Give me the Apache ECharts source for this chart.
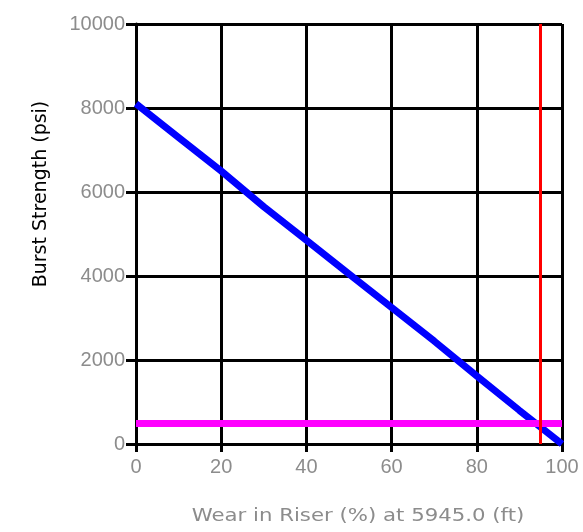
<!DOCTYPE html>
<html>
<head>
<meta charset="utf-8">
<style>
  html, body { margin: 0; padding: 0; background: #fff; }
  #chart { width: 583px; height: 532px; }
</style>
<script src="https://cdn.jsdelivr.net/npm/echarts@6/dist/echarts.min.js"></script>
</head>
<body>
<div id="chart"></div>
<script>
// Riser wear (%) versus burst strength (psi)
const wear = [0, 10, 20, 30, 40, 50, 60, 70, 80, 90, 100];
const burst = [8100, 7300, 6500, 5650, 4850, 4050, 3250, 2450, 1620, 800, 0];
// Reference limits
const wearLimit = 95;
const pressureLimit = 500;
// Titles
const xTitle = 'Wear in Riser (%) at 5945.0 (ft)';
const yTitle = 'Burst Strength (psi)';

const chart = echarts.init(document.getElementById('chart'), null, { renderer: 'canvas' });

const labelStyle = {
  color: '#8c8c8c',
  fontFamily: 'Liberation Sans, Arial, sans-serif',
  fontSize: 20,
  formatter: v => String(v)
};

chart.setOption({
  animation: false,
  grid: { left: 136, right: 21, top: 24, bottom: 88 },
  xAxis: {
    type: 'value',
    min: 0, max: 100, interval: 20,
    axisLine: { show: true, onZero: false, lineStyle: { color: '#000', width: 3 } },
    axisTick: { show: true, length: 8, lineStyle: { color: '#000', width: 3 } },
    axisLabel: Object.assign({ margin: 13 }, labelStyle),
    splitLine: { show: true, lineStyle: { color: '#000', width: 3 } }
  },
  yAxis: {
    type: 'value',
    min: 0, max: 10000, interval: 2000,
    axisLine: { show: true, lineStyle: { color: '#000', width: 3 } },
    axisTick: { show: true, length: 10, lineStyle: { color: '#000', width: 3 } },
    axisLabel: Object.assign({ margin: 11 }, labelStyle),
    splitLine: { show: true, lineStyle: { color: '#000', width: 3 } }
  },
  graphic: [
    {
      type: 'text',
      x: 358, y: 517,
      scaleX: 1.25,
      style: {
        text: xTitle,
        fill: '#8c8c8c',
        font: '17px "DejaVu Sans", sans-serif',
        textAlign: 'center',
        textVerticalAlign: 'middle'
      }
    },
    {
      type: 'text',
      x: 41, y: 194,
      rotation: Math.PI / 2,
      style: {
        text: yTitle,
        fill: '#000',
        font: '19px "DejaVu Sans", sans-serif',
        textAlign: 'center',
        textVerticalAlign: 'middle'
      }
    }
  ],
  series: [
    {
      type: 'line',
      data: wear.map((w, i) => [w, burst[i]]),
      symbol: 'none',
      lineStyle: { color: '#0000ff', width: 7 },
      z: 3,
      markLine: {
        silent: true,
        symbol: 'none',
        label: { show: false },
        data: [
          { yAxis: pressureLimit, lineStyle: { color: '#ff00ff', width: 7, type: 'solid' } },
          { xAxis: wearLimit, lineStyle: { color: '#ff0000', width: 3, type: 'solid' } }
        ]
      }
    }
  ]
});
</script>
</body>
</html>
